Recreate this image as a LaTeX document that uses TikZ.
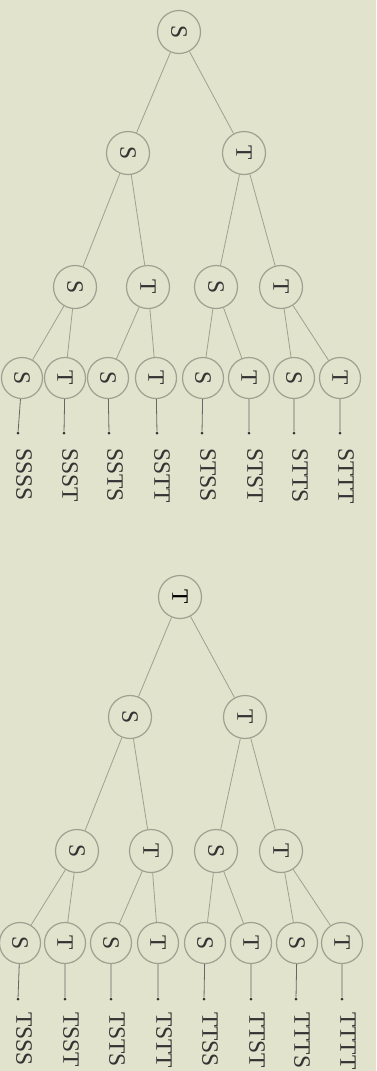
\documentclass[tikz,border=0pt]{standalone}
\usepackage{fontspec}
\setmainfont{Liberation Serif}
\usepackage{tikz}
\definecolor{paper}{RGB}{226,227,205}
\definecolor{wire}{RGB}{160,160,145}

\begin{document}
\begin{tikzpicture}[x=1pt,y=-1pt,font=\fontsize{23.5}{24}\selectfont,
 nd/.style={draw=wire,circle,line width=1.2pt,minimum size=43pt,inner sep=0pt,text=black!80,rotate=-90},
 lf/.style={nd,minimum size=41pt},
 dt/.style={circle,fill=black!80,inner sep=0pt,minimum size=3pt},
 lb/.style={anchor=west,rotate=-90,inner sep=0pt,text=black!80},
 ed/.style={wire,line width=0.8pt},
 st/.style={black!60,line width=0.8pt}]
\fill[paper] (0,0) rectangle (376,1071);
\useasboundingbox (0,0) rectangle (376,1071);
% tree starting with S
\node[nd] (S) at (179,32) {S};
\node[nd] (SS) at (128,153) {S};
\node[nd] (ST) at (244,153) {T};
\node[nd] (SSS) at (75,287) {S};
\node[nd] (SST) at (148,287) {T};
\node[nd] (STS) at (216,287) {S};
\node[nd] (STT) at (281,287) {T};
\node[lf] (SSSS) at (22,378) {S};
\node[lf] (SSST) at (65,378) {T};
\node[lf] (SSTS) at (108,378) {S};
\node[lf] (SSTT) at (156,378) {T};
\node[lf] (STSS) at (203,378) {S};
\node[lf] (STST) at (249,378) {T};
\node[lf] (STTS) at (294,378) {S};
\node[lf] (STTT) at (340,378) {T};
\node[dt] (dSSSS) at (18,433) {};
\node[dt] (dSSST) at (64,433) {};
\node[dt] (dSSTS) at (109,433) {};
\node[dt] (dSSTT) at (157,433) {};
\node[dt] (dSTSS) at (202,433) {};
\node[dt] (dSTST) at (249,433) {};
\node[dt] (dSTTS) at (294,433) {};
\node[dt] (dSTTT) at (340,433) {};
\node[lb] (lSSSS) at (24,448) {SSSS};
\node[lb] (lSSST) at (70,448) {SSST};
\node[lb] (lSSTS) at (115,448) {SSTS};
\node[lb] (lSSTT) at (162,448) {SSTT};
\node[lb] (lSTSS) at (208,448) {STSS};
\node[lb] (lSTST) at (255,448) {STST};
\node[lb] (lSTTS) at (300,448) {STTS};
\node[lb] (lSTTT) at (346,448) {STTT};
\draw[ed] (S) -- (SS) (S) -- (ST)
 (SS) -- (SSS) (SS) -- (SST) (ST) -- (STS) (ST) -- (STT)
 (SSS) -- (SSSS) (SSS) -- (SSST) (SST) -- (SSTS) (SST) -- (SSTT)
 (STS) -- (STSS) (STS) -- (STST) (STT) -- (STTS) (STT) -- (STTT);
\draw[st] (SSSS) -- (dSSSS) (SSST) -- (dSSST) (SSTS) -- (dSSTS) (SSTT) -- (dSSTT)
 (STSS) -- (dSTSS) (STST) -- (dSTST) (STTS) -- (dSTTS) (STTT) -- (dSTTT);
% tree starting with T
\node[nd,text=black] (T) at (180,597) {T};
\node[nd] (TS) at (130,717) {S};
\node[nd] (TT) at (245,717) {T};
\node[nd] (TSS) at (77,851) {S};
\node[nd] (TST) at (151,851) {T};
\node[nd] (TTS) at (216,851) {S};
\node[nd] (TTT) at (281,851) {T};
\node[lf] (TSSS) at (20,943) {S};
\node[lf] (TSST) at (65,943) {T};
\node[lf] (TSTS) at (111,943) {S};
\node[lf] (TSTT) at (158,943) {T};
\node[lf] (TTSS) at (205,943) {S};
\node[lf] (TTST) at (251,943) {T};
\node[lf] (TTTS) at (297,943) {S};
\node[lf] (TTTT) at (342,943) {T};
\node[dt] (dTSSS) at (18,999) {};
\node[dt] (dTSST) at (65,999) {};
\node[dt] (dTSTS) at (111,999) {};
\node[dt] (dTSTT) at (158,999) {};
\node[dt] (dTTSS) at (204,999) {};
\node[dt] (dTTST) at (251,999) {};
\node[dt] (dTTTS) at (296,999) {};
\node[dt] (dTTTT) at (342,999) {};
\node[lb] (lTSSS) at (24,1012) {TSSS};
\node[lb] (lTSST) at (71,1012) {TSST};
\node[lb] (lTSTS) at (117,1012) {TSTS};
\node[lb] (lTSTT) at (164,1012) {TSTT};
\node[lb] (lTTSS) at (210,1012) {TTSS};
\node[lb] (lTTST) at (257,1012) {TTST};
\node[lb] (lTTTS) at (302,1012) {TTTS};
\node[lb] (lTTTT) at (348,1012) {TTTT};
\draw[ed] (T) -- (TS) (T) -- (TT)
 (TS) -- (TSS) (TS) -- (TST) (TT) -- (TTS) (TT) -- (TTT)
 (TSS) -- (TSSS) (TSS) -- (TSST) (TST) -- (TSTS) (TST) -- (TSTT)
 (TTS) -- (TTSS) (TTS) -- (TTST) (TTT) -- (TTTS) (TTT) -- (TTTT);
\draw[st] (TSSS) -- (dTSSS) (TSST) -- (dTSST) (TSTS) -- (dTSTS) (TSTT) -- (dTSTT)
 (TTSS) -- (dTTSS) (TTST) -- (dTTST) (TTTS) -- (dTTTS) (TTTT) -- (dTTTT);
\end{tikzpicture}
\end{document}
